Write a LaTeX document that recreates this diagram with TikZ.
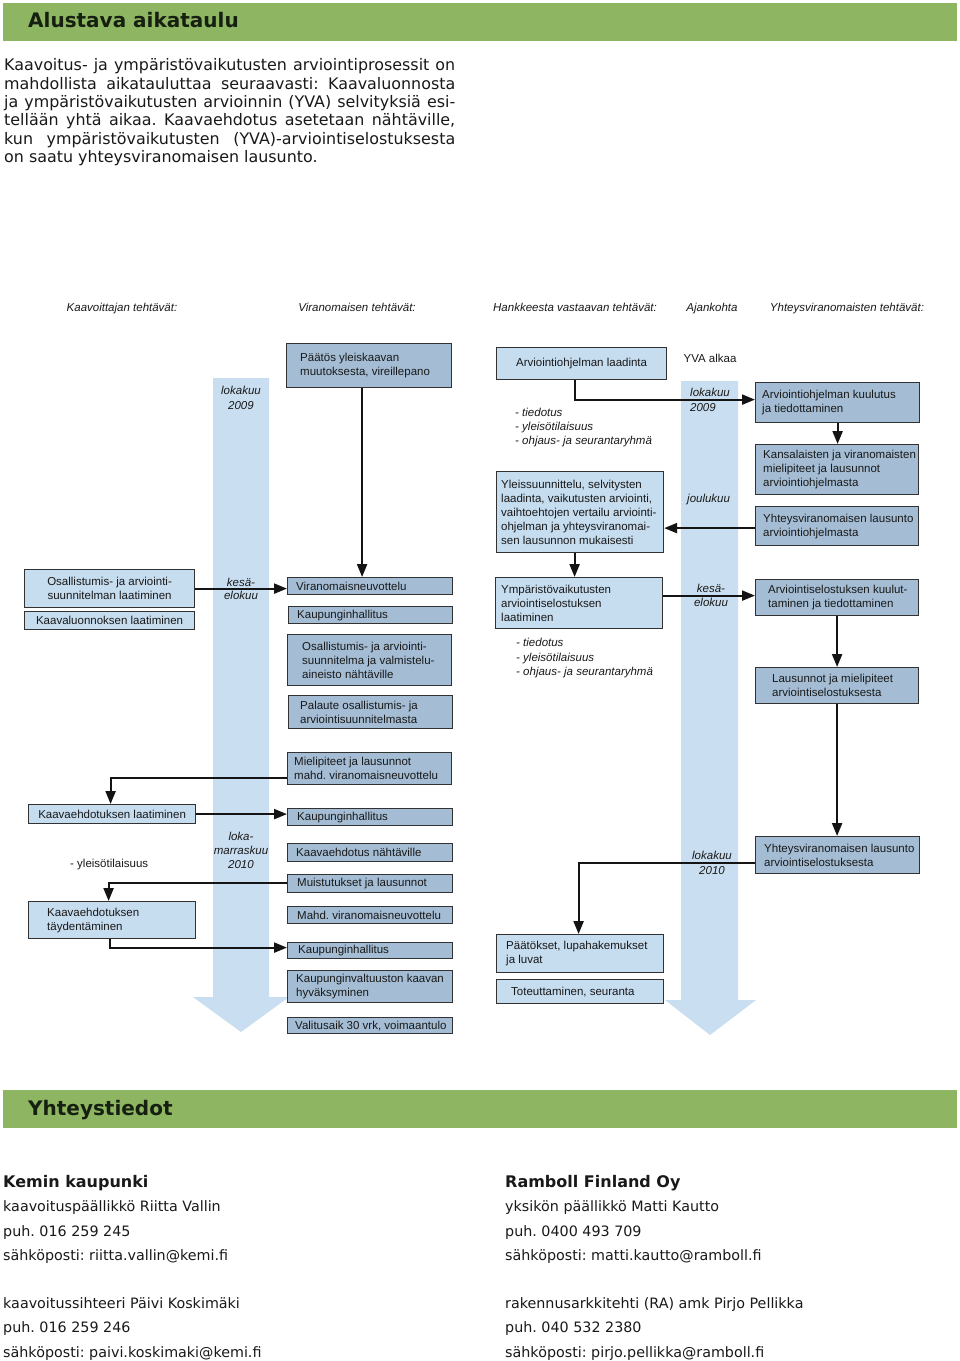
\documentclass[tikz,border=0pt]{standalone}
\usepackage{fontspec}
\usetikzlibrary{arrows.meta,calc}
\newfontfamily\verd{DejaVu Sans}
\newfontfamily\arl{Liberation Sans}
\frenchspacing
\definecolor{grn}{RGB}{141,181,98}
\definecolor{ttl}{RGB}{22,32,16}
\definecolor{lightb}{RGB}{198,220,239}
\definecolor{darkb}{RGB}{164,189,212}
\definecolor{tline}{RGB}{201,222,240}
\definecolor{bord}{RGB}{50,50,50}
\definecolor{txtc}{RGB}{25,25,25}
\definecolor{arrc}{RGB}{20,20,20}
\newcommand\bx[8]{%
  \node[#6, anchor=north west, minimum width=#4pt, minimum height=#5pt] (#1) at (#2,#3) {};
  \node[txt, anchor=west, align=left] (#1t) at ([xshift=#7pt]#1.west) {#8};}
\newcommand\bxc[7]{%
  \node[#6, anchor=north west, minimum width=#4pt, minimum height=#5pt] (#1) at (#2,#3) {};
  \node[txt, align=center] (#1t) at (#1.center) {#7};}
\begin{document}
\frenchspacing
\begin{tikzpicture}[x=1pt,y=-1pt,
  dbox/.style={draw=bord, fill=darkb, line width=1.2pt, inner sep=0pt},
  lbox/.style={draw=bord, fill=lightb, line width=1.2pt, inner sep=0pt},
  txt/.style={inner sep=0pt, font=\arl\fontsize{11.5}{14}\selectfont, text=txtc},
  itx/.style={inner sep=0pt, font=\arl\itshape\fontsize{11.5}{14}\selectfont, text=txtc},
  para/.style={inner sep=0pt, anchor=base west, font=\verd\fontsize{15.9}{18}\selectfont, text=txtc},
  cont/.style={inner sep=0pt, anchor=base west, font=\verd\fontsize{14.3}{16}\selectfont, text=txtc},
  contb/.style={inner sep=0pt, anchor=base west, font=\verd\bfseries\fontsize{16}{18}\selectfont, text=txtc},
  hdr/.style={inner sep=0pt, anchor=base west, font=\verd\bfseries\fontsize{20}{22}\selectfont, text=ttl},
  arr/.style={line width=2.2pt, draw=arrc, -{Triangle[length=13pt,width=10pt]}}
]
\fill[white] (0,0) rectangle (960,1361);
\path[use as bounding box] (0,0) rectangle (960,1361);

% header
\fill[grn] (3,3) rectangle (957,41);
\node[hdr] (title) at (28,27.5) {Alustava aikataulu};
\node[para] (p1) at (4,70.5) {\makebox[451pt][s]{Kaavoitus- ja ympäristövaikutusten arviointiprosessit on}};
\node[para] (p2) at (4,89) {\makebox[451pt][s]{mahdollista aikatauluttaa seuraavasti: Kaavaluonnosta}};
\node[para] (p3) at (4,107.3) {\makebox[451pt][s]{ja ympäristövaikutusten arvioinnin (YVA) selvityksiä esi-}};
\node[para] (p4) at (4,125.6) {\makebox[451pt][s]{tellään yhtä aikaa. Kaavaehdotus asetetaan nähtäville,}};
\node[para] (p5) at (4,144) {\makebox[451pt][s]{kun ympäristövaikutusten (YVA)-arviointiselostuksesta}};
\node[para] (p6) at (4,162.3) {on saatu yhteysviranomaisen lausunto.};

% column headings
\node[itx, anchor=base] (h1) at (122,311) {Kaavoittajan tehtävät:};
\node[itx, anchor=base] (h2) at (357,311) {Viranomaisen tehtävät:};
\node[itx, anchor=base] (h3) at (575,311) {Hankkeesta vastaavan tehtävät:};
\node[itx, anchor=base] (h4) at (712,311) {Ajankohta};
\node[itx, anchor=base] (h5) at (847,311) {Yhteysviranomaisten tehtävät:};

% timelines
\fill[tline] (213,378) -- (269,378) -- (269,997) -- (289,997) -- (241,1032) -- (193,997) -- (213,997) -- cycle;
\fill[tline] (681,381) -- (738,381) -- (738,1000) -- (756,1000) -- (710,1035) -- (665,1000) -- (681,1000) -- cycle;

% timeline labels
\node[itx, anchor=base] (a1) at (241,394) {lokakuu};
\node[itx, anchor=base] (a2) at (241,409) {2009};
\node[itx, anchor=base] (a3) at (241,586) {kesä-};
\node[itx, anchor=base] (a4) at (241,599) {elokuu};
\node[itx, anchor=base] (a5) at (241,840) {loka-};
\node[itx, anchor=base] (a6) at (241,854) {marraskuu};
\node[itx, anchor=base] (a7) at (241,868) {2010};
\node[txt, anchor=base] (b0) at (710,362) {YVA alkaa};
\node[itx, anchor=base west] (b1) at (690,396) {lokakuu};
\node[itx, anchor=base west] (b2) at (690,411) {2009};
\node[itx, anchor=base west] (b3) at (687,502) {joulukuu};
\node[itx, anchor=base] (b4) at (711,592) {kesä-};
\node[itx, anchor=base] (b5) at (711,606) {elokuu};
\node[itx, anchor=base] (b6) at (712,859) {lokakuu};
\node[itx, anchor=base] (b7) at (712,874) {2010};

% Kaavoittaja
\bxc{osal}{24}{569}{170}{38}{lbox}{Osallistumis- ja arviointi-\\suunnitelman laatiminen}
\bxc{kaluon}{24}{611}{170}{18}{lbox}{Kaavaluonnoksen laatiminen}
\bxc{kaehd}{28}{804}{167}{19}{lbox}{Kaavaehdotuksen laatiminen}
\node[txt, anchor=base west] (ylt) at (70,867) {- yleisötilaisuus};
\bx{taydt}{28}{901}{167}{37}{lbox}{19}{Kaavaehdotuksen\\täydentäminen}

% Viranomainen
\bx{paatos}{286}{343}{165}{44}{dbox}{14}{Päätös yleiskaavan\\muutoksesta, vireillepano}
\bx{vneuv}{287}{577}{165}{17}{dbox}{9}{Viranomaisneuvottelu}
\bx{kh1}{288}{606}{164}{17}{dbox}{9}{Kaupunginhallitus}
\bx{osnah}{287}{634}{164}{51}{dbox}{15}{Osallistumis- ja arviointi-\\suunnitelma ja valmistelu-\\aineisto nähtäville}
\bx{pal}{288}{695}{164}{33}{dbox}{12}{Palaute osallistumis- ja\\arviointisuunnitelmasta}
\bx{miel}{287}{752}{164}{32}{dbox}{7}{Mielipiteet ja lausunnot\\mahd. viranomaisneuvottelu}
\bx{kh2}{287}{808}{165}{17}{dbox}{10}{Kaupunginhallitus}
\bx{kenah}{287}{843}{165}{18}{dbox}{9}{Kaavaehdotus nähtäville}
\bx{muist}{287}{874}{165}{18}{dbox}{10}{Muistutukset ja lausunnot}
\bx{mahd}{287}{906}{165}{17}{dbox}{10}{Mahd. viranomaisneuvottelu}
\bx{kh3}{287}{942}{165}{16}{dbox}{11}{Kaupunginhallitus}
\bx{kval}{287}{970}{165}{32}{dbox}{9}{Kaupunginvaltuuston kaavan\\hyväksyminen}
\bx{valit}{287}{1017}{165}{16}{dbox}{8}{Valitusaik 30 vrk, voimaantulo}

% Hankkeesta vastaava
\bxc{arvlaad}{496}{347}{170}{32}{lbox}{Arviointiohjelman laadinta}
\node[itx, anchor=base west] (i1) at (515,416) {- tiedotus};
\node[itx, anchor=base west] (i2) at (515,430) {- yleisötilaisuus};
\node[itx, anchor=base west] (i3) at (515,444) {- ohjaus- ja seurantaryhmä};
\bx{yleis}{496}{471}{167}{81}{lbox}{5}{Yleissuunnittelu, selvitysten\\laadinta, vaikutusten arviointi,\\vaihtoehtojen vertailu arviointi-\\ohjelman ja yhteysviranomai-\\sen lausunnon mukaisesti}
\bx{ymp}{495}{577}{167}{51}{lbox}{6}{Ympäristövaikutusten\\arviointiselostuksen\\laatiminen}
\node[itx, anchor=base west] (j1) at (516,646) {- tiedotus};
\node[itx, anchor=base west] (j2) at (516,661) {- yleisötilaisuus};
\node[itx, anchor=base west] (j3) at (516,675) {- ohjaus- ja seurantaryhmä};
\bx{paat}{496}{934}{167}{38}{lbox}{10}{Päätökset, lupahakemukset\\ja luvat}
\bx{tot}{496}{979}{167}{24}{lbox}{15}{Toteuttaminen, seuranta}

% Yhteysviranomaiset
\bx{kuul}{755}{382}{164}{40}{dbox}{7}{Arviointiohjelman kuulutus\\ja tiedottaminen}
\bx{kans}{755}{444}{163}{50}{dbox}{8}{Kansalaisten ja viranomaisten\\mielipiteet ja lausunnot\\arviointiohjelmasta}
\bx{yvl1}{755}{506}{163}{39}{dbox}{8}{Yhteysviranomaisen lausunto\\arviointiohjelmasta}
\bx{arvsel}{755}{579}{163}{36}{dbox}{13}{Arviointiselostuksen kuulut-\\taminen ja tiedottaminen}
\bx{laus}{755}{667}{163}{36}{dbox}{17}{Lausunnot ja mielipiteet\\arviointiselostuksesta}
\bx{yvl2}{755}{836}{164}{37}{dbox}{9}{Yhteysviranomaisen lausunto\\arviointiselostuksesta}

% connectors
\draw[arr] ([xshift=-7pt]paatos.south) -- ([xshift=-7pt]paatos.south |- vneuv.north);
\draw[arr] ([xshift=-7pt]arvlaad.south) |- ([yshift=3pt]kuul.west);
\draw[arr] (kuul.south) -- (kuul.south |- kans.north);
\draw[arr] ([yshift=-2pt]yvl1.west) -- ([yshift=-2pt]yvl1.west -| yleis.east);
\draw[arr] ([xshift=-5.5pt]yleis.south) -- ([xshift=-5.5pt]yleis.south |- ymp.north);
\draw[arr] (osal.east) -- (osal.east -| vneuv.west);
\draw[arr] ([yshift=2pt]arvsel.west -| ymp.east) -- ([yshift=2pt]arvsel.west);
\draw[arr] (arvsel.south) -- (arvsel.south |- laus.north);
\draw[arr] (laus.south) -- (laus.south |- yvl2.north);
\draw[arr] ([yshift=-9pt]miel.west) -| ([xshift=-1.5pt]kaehd.north);
\draw[arr] (kaehd.east) -- (kaehd.east -| kh2.west);
\draw[arr] ([yshift=1pt]muist.west) -| ([xshift=-3.5pt]taydt.north);
\draw[arr] ([xshift=-2.5pt]taydt.south) |- ([yshift=3pt]kh3.west);
\draw[arr] ([yshift=-7.5pt]yvl2.west) -| ([xshift=-1.5pt]paat.north);

% contacts
\fill[grn] (3,1090) rectangle (957,1128);
\node[hdr] (yt) at (28,1115) {Yhteystiedot};
\node[contb] (c1) at (3,1187) {Kemin kaupunki};
\node[cont] (c2) at (3,1211.5) {kaavoituspäällikkö Riitta Vallin};
\node[cont] (c3) at (3,1236) {puh. 016 259 245};
\node[cont] (c4) at (3,1260) {sähköposti: riitta.vallin@kemi.fi};
\node[cont] (c5) at (3,1308.5) {kaavoitussihteeri Päivi Koskimäki};
\node[cont] (c6) at (3,1332.5) {puh. 016 259 246};
\node[cont] (c7) at (3,1357) {sähköposti: paivi.koskimaki@kemi.fi};
\node[contb] (d1) at (505,1187) {Ramboll Finland Oy};
\node[cont] (d2) at (505,1211.5) {yksikön päällikkö Matti Kautto};
\node[cont] (d3) at (505,1236) {puh. 0400 493 709};
\node[cont] (d4) at (505,1260) {sähköposti: matti.kautto@ramboll.fi};
\node[cont] (d5) at (505,1308.5) {rakennusarkkitehti (RA) amk Pirjo Pellikka};
\node[cont] (d6) at (505,1332.5) {puh. 040 532 2380};
\node[cont] (d7) at (505,1357) {sähköposti: pirjo.pellikka@ramboll.fi};
\end{tikzpicture}
\end{document}
